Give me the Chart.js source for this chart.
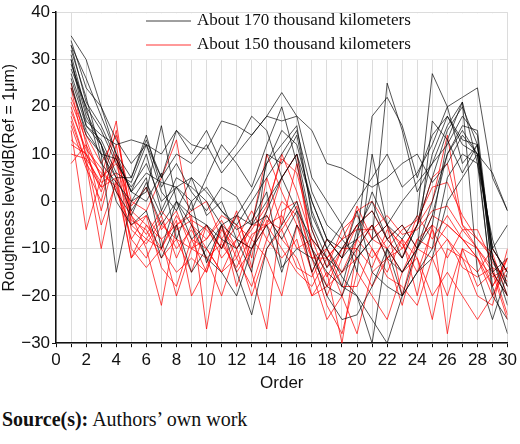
<!DOCTYPE html>
<html>
<head>
<meta charset="UTF-8">
<script src="https://cdn.jsdelivr.net/npm/chart.js"></script>
<style>
  body { margin: 0; background: #fff; }
  #wrap { width: 520px; height: 394px; }
  .src { font-family: 'Liberation Serif', serif; font-size: 20px; margin: 14px 0 0 2px; color: #111; }
</style>
</head>
<body>
<div id="wrap"><canvas id="c"></canvas></div>
<div class="src"><b>Source(s):</b> Authors’ own work</div>
<script>
const orders = Array.from({length: 30}, (_, i) => i + 1);
const labels170 = 'About 170 thousand kilometers';
const labels150 = 'About 150 thousand kilometers';

// about 170 thousand km (black)
const b1 = [35,30,20,13,8,12,5,10,8,12,6,10,14,18,23,18,5,0,-5,0,5,10,3,6,12,20,22,24,5,-2];
const b2 = [33,26,18,10,2,10,-2,5,3,0,-5,-3,2,8,15,12,0,-8,-10,-5,-2,-8,-12,-5,5,15,20,12,-10,-15];
const b3 = [30,18,12,5,-2,3,-5,0,-3,-5,-8,-10,-5,0,5,10,-5,-12,-15,-10,-5,-12,-15,-10,0,10,15,10,-12,-18];
const b4 = [28,20,15,8,3,8,0,3,5,2,-2,-5,0,5,10,15,2,-5,-8,-12,-8,25,15,2,8,12,18,14,-15,-20];
const b5 = [32,22,10,-15,0,5,-10,0,-5,-12,-15,-20,-10,-5,-15,-5,-10,-20,-25,-24,-18,-10,-20,-15,-10,5,10,8,-18,-28];
const b6 = [26,16,13,6,4,12,2,-2,5,-3,0,-8,-15,10,8,14,-2,-10,-5,-15,10,-5,-8,-3,27,20,8,12,-12,-22];
const b7 = [29,20,8,4,0,2,16,0,-8,-5,-10,-3,-5,-3,-8,-2,-15,-8,-12,-8,2,-5,-12,-5,10,18,12,10,-10,-15];
const b8 = [34,24,20,10,5,14,3,8,2,-2,3,1,-5,8,12,16,-3,-10,-16,-20,-30,-10,-15,-10,-5,13,21,-15,-25,-15];
const b9 = [24,15,10,5,5,13,5,15,10,15,8,12,18,15,5,10,0,-8,-12,-2,-15,-18,-20,-10,17,13,6,12,-10,-5];
const b10 = [31,19,12,2,-3,4,-3,3,0,3,-2,-6,-4,2,-14,-10,-12,-18,-20,-12,-8,-5,0,4,8,16,21,8,-8,-18];
const b11 = [27,17,14,12,13,12,10,15,12,11,17,16,14,18,17,18,15,8,7,5,3,5,8,10,4,8,14,10,6,-2];
const b12 = [30,16,12,0,-5,-2,-12,-5,-15,-10,-5,-15,-24,-10,-5,0,-10,-15,-18,-20,-25,-30,-20,-15,-12,0,5,10,-20,-25];
const b13 = [33,21,16,9,2,6,4,3,-2,5,12,8,3,12,20,8,-6,-14,-10,-8,18,22,16,5,14,18,13,12,-15,-12];
const b14 = [25,14,10,9,2,0,6,-8,0,-13,-5,-8,-10,-2,5,-2,-8,-12,-18,-6,0,-8,-5,-10,-3,10,16,15,-12,-20];

// about 150 thousand km (red)
const r1 = [25,12,5,17,-5,-8,-3,-12,-5,-10,-15,-8,-10,-5,5,10,-10,-18,-10,-5,-10,-15,-8,-20,-5,-8,-12,-15,-10,-15];
const r2 = [20,10,2,10,-2,-5,-10,-3,-8,-15,-5,-12,-5,10,2,-5,-15,-25,-20,-8,-5,-12,-10,-5,0,14,-5,-10,-15,-20];
const r3 = [18,8,-10,5,-12,-5,-8,-20,-10,-5,-10,-5,-15,-27,-2,0,-12,-10,-15,-8,-12,-8,-5,-10,-3,-5,-8,-12,-18,-12];
const r4 = [15,-6,5,8,-3,-10,-22,-5,-3,-27,-8,-15,-10,-3,-8,-12,-20,-15,-30,-10,-5,-10,-15,-8,-5,-28,-10,-18,-15,-25];
const r5 = [22,14,8,14,0,-2,5,13,-5,-8,-3,-5,-8,-2,10,2,-8,-12,-8,-2,0,-5,-10,-5,5,8,-5,-8,-12,-18];
const r6 = [12,10,3,5,-8,-12,-5,-8,-10,-12,-20,-10,-5,-5,-10,-15,-18,-12,-20,-28,-15,-12,-8,-12,-25,-10,-12,-20,-22,-10];
const r7 = [19,11,7,2,-5,-3,-8,-5,-2,0,-8,-3,-12,5,-5,8,-10,-20,-12,-5,-2,-8,-12,-3,-8,-3,-8,-10,-14,-16];
const r8 = [8,12,-2,10,-10,-14,-10,-15,-12,-15,-5,-18,-8,-12,-20,-5,-12,-22,-28,-15,-20,-25,-15,-12,-20,-15,-20,-25,-20,-14];
const r9 = [24,9,4,6,-4,-6,-12,-8,-15,-5,-12,-8,-2,-8,0,-3,-15,-8,-12,-1,-8,-5,-20,-8,-10,-5,-8,-12,-16,-14];
const r10 = [16,7,0,12,-6,-9,-4,-10,-6,-12,-9,-14,-7,-5,-3,-10,-8,-16,-10,-10,-14,-6,-9,-15,-6,-12,-6,-10,-18,-12];
const r11 = [21,13,5,9,-1,3,-6,-2,-10,-8,-4,-10,-6,-1,9,6,-6,-14,-6,-3,-8,-10,-6,-4,3,4,-3,-8,-11,-20];
const r12 = [13,10,6,3,-8,-3,-14,-18,-8,-10,-15,-12,-18,-8,-12,-8,-20,-18,-15,-12,-18,-12,-22,-10,-12,-20,-10,-12,-20,-12];
const r13 = [17,8,3,15,-3,-7,-2,-6,-4,-6,-10,-2,-14,-4,-6,-1,-12,-12,-8,-6,-6,-3,-7,-6,-2,-1,-6,-6,-13,-17];
const r14 = [10,9,-5,4,-12,-8,-10,-4,-20,-14,-6,-10,-20,-10,-6,-14,-16,-10,-18,-18,-10,-16,-18,-22,-12,-8,-14,-16,-14,-24];

const blackSeries = [b1,b2,b3,b4,b5,b6,b7,b8,b9,b10,b11,b12,b13,b14];
const redSeries = [r1,r2,r3,r4,r5,r6,r7,r8,r9,r10,r11,r12,r13,r14];

const BLACK = 'rgba(0,0,0,0.75)';
const RED = 'rgba(255,0,0,0.8)';

function mk(arr, color, label) {
  return {
    label: label,
    data: arr.map((v, i) => ({x: orders[i], y: v})),
    borderColor: color, borderWidth: 0.9, pointRadius: 0, tension: 0, fill: false
  };
}
const datasets = [
  ...blackSeries.map(s => mk(s, BLACK, labels170)),
  ...redSeries.map(s => mk(s, RED, labels150))
];

const legendPlugin = {
  id: 'boxLegend',
  beforeDatasetsDraw(chart) {
    const {ctx, scales: {x, y}} = chart;
    ctx.save();
    ctx.fillStyle = '#fff';
    const x0 = x.getPixelForValue(1.5), x1 = x.getPixelForValue(29.5);
    ctx.fillRect(x0, y.top + 1, x1 - x0, y.getPixelForValue(30) - y.top - 1);
    ctx.restore();
  },
  afterDatasetsDraw(chart) {
    const {ctx} = chart;
    ctx.save();
    ctx.font = '17px "Liberation Serif"';
    ctx.textBaseline = 'middle';
    [[labels170, BLACK, 21], [labels150, RED, 45]].forEach(([t, c, yy]) => {
      ctx.strokeStyle = c; ctx.lineWidth = 1;
      ctx.beginPath(); ctx.moveTo(146, yy); ctx.lineTo(191, yy); ctx.stroke();
      ctx.fillStyle = '#111';
      ctx.fillText(t, 197, yy);
    });
    ctx.restore();
  }
};

const minus = v => String(v).replace('-', '\u2212');

new Chart(document.getElementById('c'), {
  type: 'line',
  data: { datasets },
  plugins: [legendPlugin],
  options: {
    responsive: true, maintainAspectRatio: false, animation: false,
    layout: { padding: { top: 11, right: 10, left: 0, bottom: 0 } },
    plugins: { legend: { display: false }, tooltip: { enabled: false } },
    scales: {
      x: {
        type: 'linear', min: 0, max: 30,
        ticks: { stepSize: 1, autoSkip: false, maxRotation: 0, color: '#111',
          font: { family: 'Liberation Sans', size: 17 },
          callback: v => v % 2 === 0 ? v : '' },
        grid: { color: '#dcdcdc', lineWidth: 1, tickColor: '#111', tickLength: 4 },
        border: { color: '#111', width: 1.5 },
        title: { display: true, text: 'Order', color: '#111', font: { family: 'Liberation Sans', size: 17 }, padding: 0 }
      },
      y: {
        min: -30, max: 40,
        ticks: { stepSize: 10, color: '#111', font: { family: 'Liberation Sans', size: 17 }, callback: minus, padding: 2 },
        grid: { color: '#dcdcdc', lineWidth: 1, tickColor: '#111', tickLength: 4 },
        border: { color: '#111', width: 1.5 },
        title: { display: true, text: 'Roughness level/dB(Ref = 1μm)', color: '#111', font: { family: 'Liberation Sans', size: 16 }, padding: 0 }
      }
    }
  }
});
</script>
</body>
</html>
